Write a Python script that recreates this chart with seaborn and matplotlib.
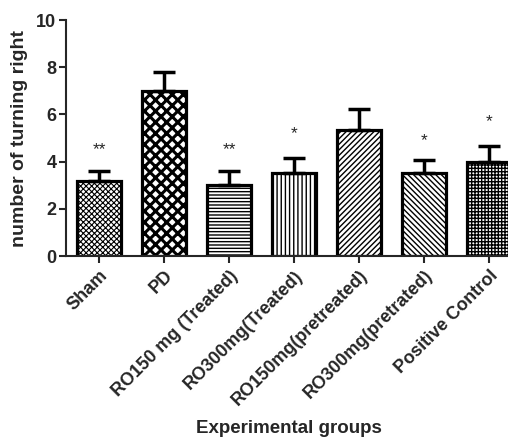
import matplotlib

matplotlib.use("Agg")

import matplotlib.pyplot as plt  # noqa: E402
import numpy as np  # noqa: E402
import pandas as pd  # noqa: E402
import seaborn as sns  # noqa: E402

groups = ["Sham", "PD", "RO150 mg (Treated)", "RO300mg(Treated)",
          "RO150mg(pretreated)", "RO300mg(pretrated)", "Positive Control"]
means = [3.2, 7.0, 3.0, 3.5, 5.35, 3.5, 4.0]
sems = [0.42, 0.82, 0.6, 0.65, 0.9, 0.55, 0.68]
stars = ["**", "", "**", "*", "", "*", "*"]
star_y = [4.5, 0, 4.5, 5.2, 0, 4.9, 5.7]
hatches = ["xxxxxx", "xxx", "-----", "||||", "//////", "\\\\\\\\\\\\", "+++++"]
hatch_lw = [0.8, 2.2, 1.0, 1.0, 1.0, 1.0, 1.0]

sns.set_style("ticks")
plt.rcParams["font.family"] = ["Liberation Sans", "DejaVu Sans"]
plt.rcParams["hatch.linewidth"] = 1.0

df = pd.DataFrame({"group": groups, "mean": means})

fig = plt.figure(figsize=(5.08, 4.38), dpi=100)
ax = fig.add_axes([0.13, 0.4155, 0.87, 0.5385])

sns.barplot(data=df, x="group", y="mean", color="white", width=0.68,
            edgecolor="black", linewidth=2.3, ax=ax)
for bar, h, hl in zip(ax.patches, hatches, hatch_lw):
    bar.set_hatch(h)
    if hasattr(bar, "set_hatch_linewidth"):
        bar.set_hatch_linewidth(hl)

x = np.arange(len(groups))
ax.errorbar(x, means, yerr=[np.zeros(len(sems)), sems], fmt="none",
            ecolor="black", elinewidth=2.5, capsize=8, capthick=2.5, zorder=1)

for xi, s, sy in zip(x, stars, star_y):
    if s:
        ax.text(xi, sy, s, ha="center", va="center", fontsize=12.5)

ax.set_xlim(-0.51, 6.29)
ax.set_ylim(0, 10)
ax.set_yticks([0, 2, 4, 6, 8, 10])
ax.set_xticks(x)
ax.set_xticklabels(groups, rotation=45, ha="right", rotation_mode="anchor",
                   fontsize=13, fontweight="bold")
for lbl in ax.get_yticklabels():
    lbl.set_fontweight("bold")
ax.tick_params(axis="y", labelsize=13, width=1.5, length=5, pad=2)
ax.tick_params(axis="x", width=1.5, length=5, pad=3)
for sp in ["left", "bottom"]:
    ax.spines[sp].set_linewidth(1.5)
sns.despine(ax=ax)

ax.set_ylabel("number of turning right", fontsize=14, fontweight="bold", labelpad=6)
ax.set_xlabel("Experimental groups", fontsize=13.5, fontweight="bold")
ax.xaxis.set_label_coords(0.505, -0.695)

fig.savefig("out.png", dpi=100)
